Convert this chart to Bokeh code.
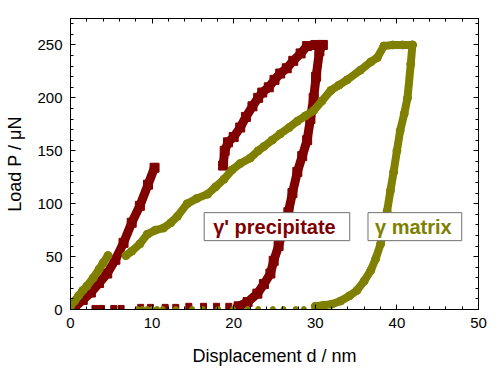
from bokeh.plotting import figure
from bokeh.models import Range1d, LinearAxis, FixedTicker, Label
from bokeh.embed import file_html
from bokeh.resources import INLINE

# gamma' precipitate (dark red squares)
prec_load1_d = [0.0, 0.5, 1.5, 2.5, 3.5, 4.5, 5.5, 6.5, 7.5, 8.5, 9.5, 10.3]
prec_load1_p = [0, 2, 9, 16, 25, 34, 47, 63, 82, 98, 118, 134]
prec_load2_d = [18.7, 18.9, 19.3, 20.0, 20.8, 21.5, 22.3, 23.0, 23.5, 24.3, 25.0, 25.7, 26.5, 27.3, 28.2, 29.0, 30.0, 30.9]
prec_load2_p = [136, 150, 158, 163, 172, 182, 192, 200, 205, 210, 217, 223, 228, 235, 242, 249, 250, 250]
prec_unload_d = [30.9, 30.5, 30.1, 29.8, 29.4, 29.0, 28.4, 27.8, 27.2, 26.7, 26.1, 25.5, 24.9, 24.5, 23.7, 22.9, 21.7, 20.6]
prec_unload_p = [250, 244, 220, 200, 180, 160, 145, 130, 110, 92, 77, 60, 46, 34, 24, 15, 7, 3]
prec_tail_d = [3.0, 3.8, 5.3, 6.2, 8.6, 9.8, 11.6, 12.9, 14.5, 16.3, 17.9, 19.4]
prec_tail_p = [1, 1, 1, 1, 2, 2, 2, 2, 3, 3, 3, 3]

# gamma matrix (olive circles)
mat_load1_d = [0.0, 0.5, 1.0, 1.5, 2.0, 2.8, 3.5, 4.0, 4.6]
mat_load1_p = [3, 8, 13, 18, 22, 30, 38, 44, 51]
mat_load2_d = [6.8, 7.5, 8.5, 9.4, 10.4, 11.4, 12.3, 13.1, 14.3, 15.5, 16.8, 17.8, 18.8, 19.8, 20.8,
               22.0, 23.0, 23.7, 24.7, 25.7, 26.8, 27.8, 28.8, 29.8, 30.8, 31.9, 32.9, 33.9, 35.5,
               36.8, 37.6, 38.4, 39.5, 40.7, 41.9]
mat_load2_p = [51, 55, 62, 71, 75, 77, 82, 88, 100, 105, 109, 116, 123, 132, 138,
               143, 150, 154, 160, 166, 172, 178, 183, 188, 197, 207, 212, 217, 226,
               234, 238, 249, 250, 250, 250]
mat_unload_d = [41.9, 41.7, 41.3, 40.9, 40.4, 40.0, 39.6, 39.2, 38.8, 38.4, 38.0, 37.4, 36.8, 36.0,
                35.1, 34.2, 33.1, 32.0, 31.0, 30.0]
mat_unload_p = [250, 232, 200, 185, 169, 150, 130, 112, 93, 77, 62, 48, 37, 27,
                18, 13, 8, 5, 4, 3]
mat_tail_d = [8.2, 8.8, 9.4, 10.0, 10.6, 11.3, 12.9, 14.9, 16.2, 18.1, 19.9, 21.7, 23.0, 24.8, 26.1, 27.6, 28.6]
mat_tail_p = [0.5] * 17

x_major = [0, 10, 20, 30, 40, 50]
x_minor = list(range(0, 51, 2))
y_major = [0, 50, 100, 150, 200, 250]
y_minor = list(range(0, 276, 10))

RED = "#800000"
OLIVE = "#808000"
FONT = "Liberation Sans"

p = figure(frame_width=408, frame_height=291, output_backend="svg", toolbar_location=None,
           x_range=Range1d(0, 50), y_range=Range1d(0, 275),
           min_border_left=70, min_border_right=10, min_border_top=18, min_border_bottom=50)
p.xgrid.visible = False
p.ygrid.visible = False
p.outline_line_color = "black"
p.outline_line_width = 1
p.background_fill_color = "white"
p.border_fill_color = "white"


def style_axis(ax, major, minor):
    ax.ticker = FixedTicker(ticks=major, minor_ticks=minor)
    ax.major_tick_in = 5
    ax.major_tick_out = 0
    ax.minor_tick_in = 3
    ax.minor_tick_out = 0
    ax.axis_line_color = "black"
    ax.major_tick_line_color = "black"
    ax.minor_tick_line_color = "black"
    ax.major_label_text_font = FONT
    ax.major_label_text_color = "black"
    ax.major_label_text_font_size = "15px"
    ax.major_label_standoff = 8


def tick_only_axis(ticks, length):
    # axis that draws only inward ticks (as "minor" ticks), no labels at all
    ax = LinearAxis(ticker=FixedTicker(ticks=[], minor_ticks=ticks))
    ax.major_tick_in = 0
    ax.major_tick_out = 0
    ax.minor_tick_in = length
    ax.minor_tick_out = 0
    ax.major_label_standoff = 0
    ax.axis_line_color = "black"
    ax.minor_tick_line_color = "black"
    return ax


style_axis(p.xaxis[0], x_major, x_minor)
style_axis(p.yaxis[0], y_major, y_minor)
p.xaxis[0].axis_label = "Displacement d / nm"
p.yaxis[0].axis_label = "Load P / μN"
for ax in (p.xaxis[0], p.yaxis[0]):
    ax.axis_label_text_font = FONT
    ax.axis_label_text_font_size = "18px"
    ax.axis_label_text_font_style = "normal"
    ax.axis_label_text_color = "black"
p.xaxis[0].axis_label_standoff = 15
p.yaxis[0].axis_label_standoff = 9

p.add_layout(tick_only_axis(x_minor, 3), "above")
p.add_layout(tick_only_axis(x_major, 5), "above")
p.add_layout(tick_only_axis(y_minor, 3), "right")
p.add_layout(tick_only_axis(y_major, 5), "right")

LW = 9
for d, pp in [(prec_load1_d, prec_load1_p), (prec_load2_d, prec_load2_p), (prec_unload_d, prec_unload_p)]:
    p.line(d, pp, line_color=RED, line_width=LW, line_join="round", line_cap="round")
    p.scatter(d, pp, marker="square", size=9, fill_color=RED, line_color=RED)
p.scatter(prec_tail_d, prec_tail_p, marker="square", size=6, fill_color=RED, line_color=RED)

for d, pp in [(mat_load1_d, mat_load1_p), (mat_load2_d, mat_load2_p), (mat_unload_d, mat_unload_p)]:
    p.line(d, pp, line_color=OLIVE, line_width=8, line_join="round", line_cap="round")
    p.scatter(d, pp, marker="circle", size=8, fill_color=OLIVE, line_color=OLIVE)
p.scatter(mat_tail_d, mat_tail_p, marker="circle", size=5, fill_color=OLIVE, line_color=OLIVE)

lab1 = Label(x=25.3, y=78.3, text="γ' precipitate", text_align="center", text_baseline="middle",
             text_font=FONT, text_font_size="20px", text_font_style="bold", text_color=RED,
             background_fill_color="white", border_line_color="#707070", border_line_width=1,
             padding=dict(left=9, right=14, top=3, bottom=3))
lab2 = Label(x=42.2, y=78.3, text="γ matrix", text_align="center", text_baseline="middle",
             text_font=FONT, text_font_size="20px", text_font_style="bold", text_color=OLIVE,
             background_fill_color="white", border_line_color="#707070", border_line_width=1,
             padding=dict(left=7, right=10, top=3, bottom=3))
p.add_layout(lab1)
p.add_layout(lab2)

open("out.html", "w").write(file_html(p, INLINE))
